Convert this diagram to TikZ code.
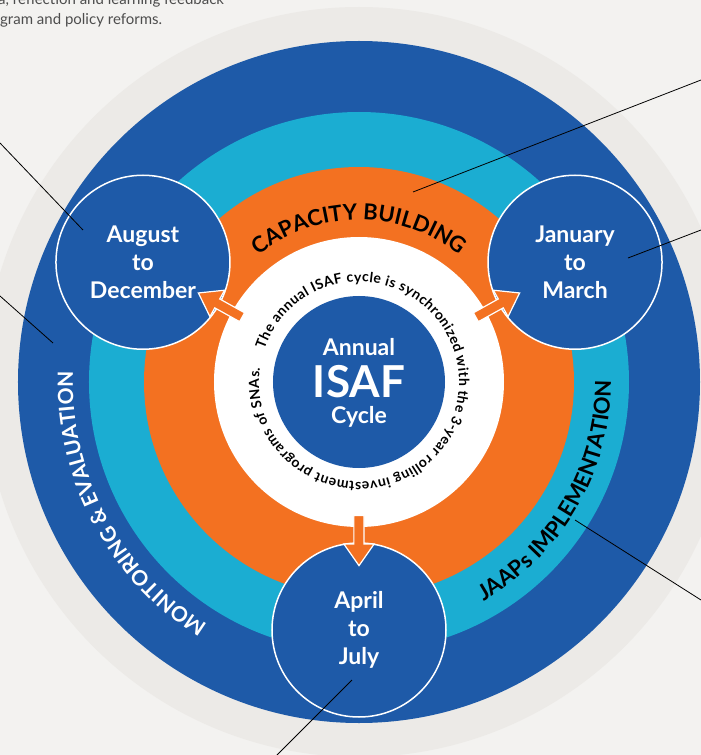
\documentclass[tikz,border=0pt]{standalone}
\usepackage{fontspec}
\setmainfont{Lato}
\usepackage{tikz}
\usetikzlibrary{decorations.text, shapes.arrows, positioning}

\definecolor{isafblue}{HTML}{1E5AA8}
\definecolor{isafcyan}{HTML}{1BADD2}
\definecolor{isaforange}{HTML}{F37121}
\definecolor{paper}{HTML}{F3F2F0}
\definecolor{halo}{HTML}{ECEAE7}
\definecolor{notegrey}{HTML}{4D4D4D}

\tikzset{
  month/.style={circle, draw=white, line width=1.5pt, fill=isafblue, minimum size=174pt,
    inner sep=0pt, align=center, text=white, font=\bfseries\fontsize{23}{28}\selectfont},
  flow/.style={single arrow, fill=isaforange, draw=white, line width=1.2pt, inner sep=4.5pt,
    minimum height=50pt, single arrow head extend=10pt, single arrow tip angle=70},
  coretext/.style={anchor=base, inner sep=0pt, text=white},
  notetext/.style={anchor=base west, inner sep=0pt, text=notegrey, font=\fontsize{15}{15}\selectfont},
  leader/.style={black, line width=0.8pt}
}

\begin{document}
\begin{tikzpicture}[x=1pt, y=1pt]
  \clip (-359,-373) rectangle (342,382);
  \fill[paper] (-359,-373) rectangle (342,382);

  % rings
  \fill[halo] (0,0) circle (375pt);
  \fill[isafblue] (0,0) circle (341pt);
  \fill[isafcyan] (0,0) circle (270pt);
  \fill[isaforange] (0,0) circle (215pt);
  \fill[white] (0,0) circle (145pt);
  \node[circle, fill=isafblue, minimum size=172pt, inner sep=0pt] (core) at (0,0) {};

  \node[coretext, font=\bfseries\fontsize{23}{23}\selectfont] (annual) at (0,27) {Annual};
  \node[coretext, font=\bfseries\fontsize{44}{44}\selectfont] (isaf) at (0,-15) {ISAF};
  \node[coretext, font=\bfseries\fontsize{23}{23}\selectfont] (cycle) at (0,-41) {Cycle};

  % ring labels
  \path[decorate, decoration={text along path, text align=center,
    text={|\bfseries\fontsize{22}{22}\selectfont|CAPACITY BUILDING}}]
    (140:162pt) arc[start angle=140, end angle=40, radius=162pt];
  \path[decorate, decoration={text along path, text align=center,
    text={|\color{white}\bfseries\fontsize{21}{21}\selectfont|MONITORING {\&} EVALUATION}}]
    (250:286pt) arc[start angle=250, end angle=166, radius=286pt];
  \path[decorate, decoration={text along path, text align=center,
    text={|\bfseries\fontsize{22}{22}\selectfont|JAAPs IMPLEMENTATION}}]
    (-78:252pt) arc[start angle=-78, end angle=18, radius=252pt];
  \path[decorate, decoration={text along path, text align=fit to path,
    text={|\bfseries\fontsize{14}{14}\selectfont|The annual ISAF cycle is synchronized with the 3-year rolling investment programs of SNAs.}}]
    (161:100pt) arc[start angle=161, end angle=-188, radius=100pt];

  % months
  \node[month] (aug) at (151:247pt) {August\\to\\December};
  \node[month] (jan) at (29:247pt) {January\\to\\March};
  \node[month] (apr) at (270:248pt) {April\\to\\July};

  \node[flow, rotate=151] (augflow) at (151:155pt) {};
  \node[flow, rotate=29] (janflow) at (29:155pt) {};
  \node[flow, rotate=270] (aprflow) at (270:155pt) {};

  % note text cut by the page
  \node[notetext] (noteA) at (-361,377) {a, reflection and learning feedback};
  \node[notetext] (noteB) at (-359,357) {gram and policy reforms.};

  % leader lines
  \coordinate (leadA) at (-359,239);   \coordinate (augPt) at (-276,152);
  \coordinate (leadB) at (-359,86);    \coordinate (mePt) at (-306,39);
  \coordinate (leadC) at (342,302);    \coordinate (capPt) at (54,190);
  \coordinate (leadD) at (342,152);    \coordinate (janPt) at (269,124);
  \coordinate (leadE) at (342,-218);   \coordinate (jaapPt) at (216,-138);
  \coordinate (leadF) at (-82,-373);   \coordinate (aprPt) at (-7,-298);
  \draw[leader] (leadA) -- (augPt);
  \draw[leader] (leadB) -- (mePt);
  \draw[leader] (leadC) -- (capPt);
  \draw[leader] (leadD) -- (janPt);
  \draw[leader] (leadE) -- (jaapPt);
  \draw[leader] (leadF) -- (aprPt);
\end{tikzpicture}
\end{document}
